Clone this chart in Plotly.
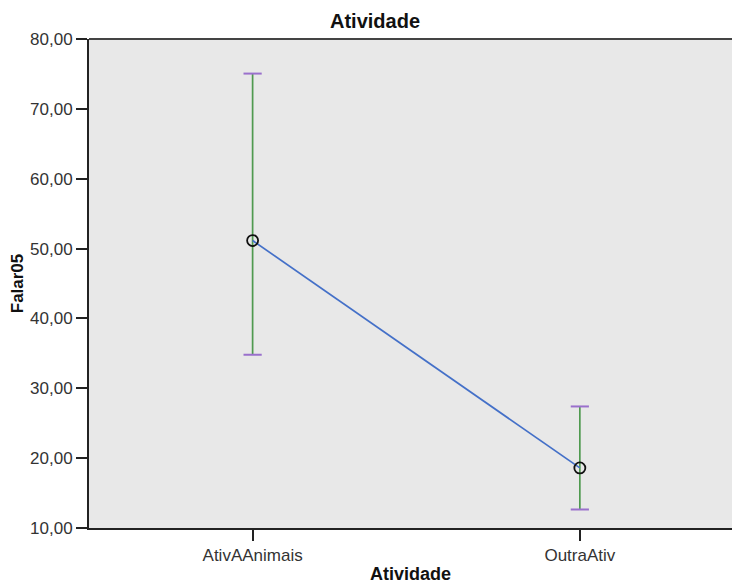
import plotly.graph_objects as go

# Group means of Falar05 by Atividade, with interval bounds
categories = ["AtivAAnimais", "OutraAtiv"]
means = [51.15, 18.6]
upper = [75.05, 27.4]
lower = [34.8, 12.65]

y_ticks = [10, 20, 30, 40, 50, 60, 70, 80]
y_tick_labels = ["10,00", "20,00", "30,00", "40,00", "50,00", "60,00", "70,00", "80,00"]

x_pos = list(range(len(categories)))
err_plus = [u - m for u, m in zip(upper, means)]
err_minus = [m - l for m, l in zip(means, lower)]

fig = go.Figure()

# Interval whiskers
fig.add_trace(go.Scatter(
    x=x_pos, y=means, mode="markers",
    marker=dict(size=1, color="rgba(0,0,0,0)"),
    error_y=dict(type="data", symmetric=False, array=err_plus, arrayminus=err_minus,
                 color="#4f9a4f", thickness=1.7, width=0),
    hoverinfo="skip", showlegend=False,
))

# Whisker caps
for bound in (upper, lower):
    fig.add_trace(go.Scatter(
        x=x_pos, y=bound, mode="markers",
        marker=dict(symbol="line-ew", size=13, line=dict(color="#9a70cc", width=2)),
        hoverinfo="skip", showlegend=False,
    ))

# Mean line with open circle markers
fig.add_trace(go.Scatter(
    x=x_pos, y=means, mode="lines+markers",
    line=dict(color="#4470c8", width=1.7),
    marker=dict(symbol="circle-open", size=11, color="#111111", line=dict(width=1.8)),
    showlegend=False,
))

font_family = "Liberation Sans, Arial, sans-serif"

fig.update_layout(
    width=732, height=584,
    margin=dict(l=89, r=0, t=39, b=56),
    paper_bgcolor="white",
    plot_bgcolor="#e8e8e8",
    font=dict(family=font_family, size=17, color="#222222"),
    title=dict(text="<b>Atividade</b>", x=375 / 732, xanchor="center",
               y=1 - 21 / 584, yanchor="middle",
               font=dict(size=20, color="#111111")),
    shapes=[dict(type="line", xref="paper", yref="paper", x0=0, x1=1, y0=1, y1=1,
                 line=dict(color="#444444", width=2))],
)

fig.update_xaxes(
    range=[-0.5, 1.465],
    tickmode="array", tickvals=x_pos, ticktext=categories,
    ticks="outside", ticklen=11, tickwidth=1.5, tickcolor="#222222",
    showline=True, linecolor="#222222", linewidth=2,
    showgrid=False, zeroline=False,
    tickfont=dict(size=17, color="#333333"),
    title=dict(text="<b>Atividade</b>", font=dict(size=18, color="#111111"), standoff=6),
)

fig.update_yaxes(
    range=[10, 80],
    tickmode="array", tickvals=y_ticks, ticktext=y_tick_labels,
    ticks="outside", ticklen=11, tickwidth=1.5, tickcolor="#222222",
    showline=True, linecolor="#222222", linewidth=2,
    showgrid=False, zeroline=False,
    tickfont=dict(size=17, color="#333333"),
    title=dict(text="<b>Falar05</b>", font=dict(size=17, color="#111111"), standoff=2),
)

fig.write_html("out.html")
